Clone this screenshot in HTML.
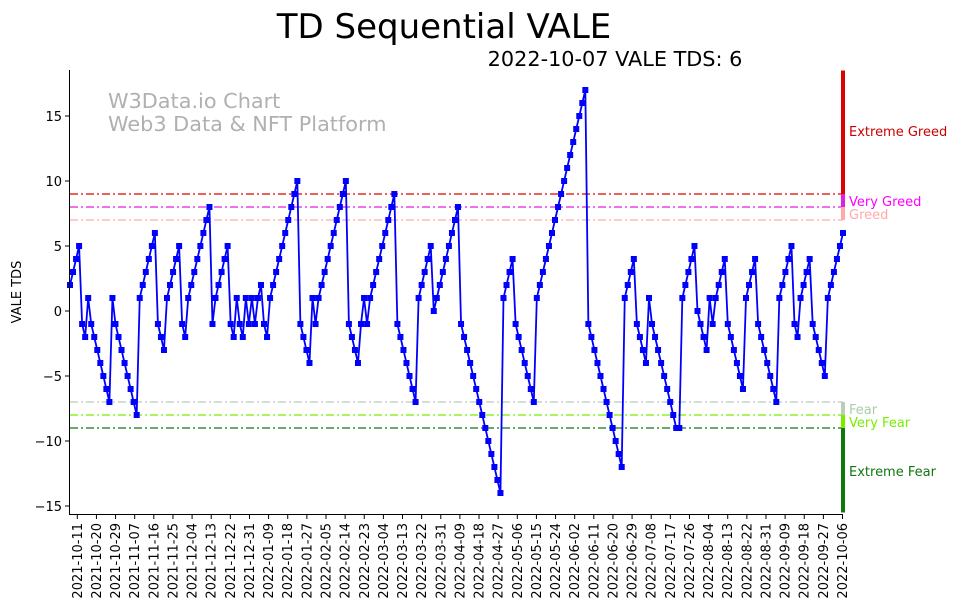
<!DOCTYPE html>
<html><head><meta charset="utf-8"><style>
html,body{margin:0;padding:0;background:#fff;}
svg{display:block;font-family:"DejaVu Sans","Liberation Sans",sans-serif;}
</style></head><body>
<svg id="chart" width="962" height="614" viewBox="0 0 962 614">
<text x="444" y="38" font-size="34" text-anchor="middle" fill="#000">TD Sequential VALE</text>
<text x="615" y="66" font-size="20.8" text-anchor="middle" fill="#000">2022-10-07 VALE TDS: 6</text>
<text x="108" y="108" font-size="20.8" fill="#b0b0b0">W3Data.io Chart</text>
<text x="108" y="131" font-size="20.8" fill="#b0b0b0">Web3 Data &amp; NFT Platform</text>
<text transform="translate(21,292) rotate(-90)" font-size="13" text-anchor="middle">VALE TDS</text>
<g id="plot"></g>
</svg>
<script>
const yTicks=[-15,-10,-5,0,5,10,15];
const levelValues=[9,8,7,-7,-8,-9];
const levelColors=['#dd0000','#dd22dd','#ffaaaa','#bbccbb','#77ee00','#117711'];
const levelLabels=['Extreme Greed','Very Greed','Greed','Fear','Very Fear','Extreme Fear'];
const startDate='2021-10-11';
const tdValues=[2,3,4,5,-1,-2,1,-1,-2,-3,-4,-5,-6,-7,1,-1,-2,-3,-4,-5,-6,-7,-8,
1,2,3,4,5,6,-1,-2,-3,1,2,3,4,5,-1,-2,1,2,3,4,5,6,7,8,-1,1,2,3,4,5,-1,-2,
1,-1,-2,1,-1,1,-1,1,2,-1,-2,1,2,3,4,5,6,7,8,9,10,-1,-2,-3,-4,1,-1,1,2,3,4,5,6,7,8,9,10,
-1,-2,-3,-4,-1,1,-1,1,2,3,4,5,6,7,8,9,-1,-2,-3,-4,-5,-6,-7,1,2,3,4,5,0,1,2,3,4,5,6,7,8,
-1,-2,-3,-4,-5,-6,-7,-8,-9,-10,-11,-12,-13,-14,1,2,3,4,-1,-2,-3,-4,-5,-6,-7,
1,2,3,4,5,6,7,8,9,10,11,12,13,14,15,16,17,-1,-2,-3,-4,-5,-6,-7,-8,-9,-10,-11,-12,
1,2,3,4,-1,-2,-3,-4,1,-1,-2,-3,-4,-5,-6,-7,-8,-9,-9,1,2,3,4,5,0,-1,-2,-3,1,-1,1,2,3,4,
-1,-2,-3,-4,-5,-6,1,2,3,4,-1,-2,-3,-4,-5,-6,-7,1,2,3,4,5,-1,-2,1,2,3,4,-1,-2,-3,-4,-5,1,2,3,4,5,6];
const NS='http://www.w3.org/2000/svg';
const X0=70,X1=843,Y0=70,Y1=514;
function yScale(v){return 311-v*13;}
function xIndex(i){return X0+i*(X1-X0)/(tdValues.length-1);}
function mk(tag,attrs,parent){const e=document.createElementNS(NS,tag);for(const k in attrs)e.setAttribute(k,attrs[k]);parent.appendChild(e);return e;}
const g=document.getElementById('plot');
levelValues.forEach((v,i)=>{
 const l=mk('line',{x1:X0,x2:X1,y1:yScale(v),y2:yScale(v),stroke:levelColors[i],'stroke-width':1.2,'stroke-dasharray':'8,3,2,3'},g);
 
 
});
const segs=[[18.5,9,0],[9,8,1],[8,7,2],[-7,-8,3],[-8,-9,4],[-9,-15.5,5]];
segs.forEach(s=>{
 const r=mk('rect',{x:841,y:Math.max(Y0,yScale(s[0])),width:4,height:Math.min(Y1,yScale(s[1]))-Math.max(Y0,yScale(s[0])),fill:levelColors[s[2]]},g);
 
 
});
const labelY=[131,201,214,409,422,471];
levelLabels.forEach((t,i)=>{
 const tx=mk('text',{x:849,y:labelY[i]+5,'font-size':13,fill:['#cc0000','#ff00ff','#ffaaaa','#aaccaa','#77ee00','#117711'][i]},g);
 tx.textContent=t;
 
 
});
let d='';tdValues.forEach((v,i)=>{d+=(i?'L':'M')+xIndex(i).toFixed(2)+','+yScale(v).toFixed(2);});
const path=mk('path',{d:d,fill:'none',stroke:'#0000ff','stroke-width':1.8},g);


tdValues.forEach((v,i)=>{
 const r=mk('rect',{x:xIndex(i)-3,y:yScale(v)-3,width:6,height:6,fill:'#0000ff'},g);
 
 
});
const ax=mk('path',{d:'M69.5,70V514.5H843',fill:'none',stroke:'#000','stroke-width':1},g);


yTicks.forEach(v=>{
 mk('line',{x1:65,x2:69.5,y1:yScale(v),y2:yScale(v),stroke:'#000'},g);
 const t=mk('text',{x:62,y:yScale(v)+5,'font-size':13,'text-anchor':'end'},g);
 t.textContent=(v<0?'\u2212'+(-v):String(v));
 
 
});
const sd=new Date(startDate+'T00:00:00Z');
for(let k=0;k<41;k++){
 const dt=new Date(sd.getTime()+k*9*86400000);
 const x=77.3+k*19.13;
 mk('line',{x1:x,x2:x,y1:514.5,y2:519,stroke:'#000'},g);
 const t=mk('text',{transform:'translate('+(x+4.5)+',523) rotate(-90)','font-size':13,'text-anchor':'end'},g);
 t.textContent=dt.toISOString().slice(0,10);
 
 
}
</script>
</body></html>
